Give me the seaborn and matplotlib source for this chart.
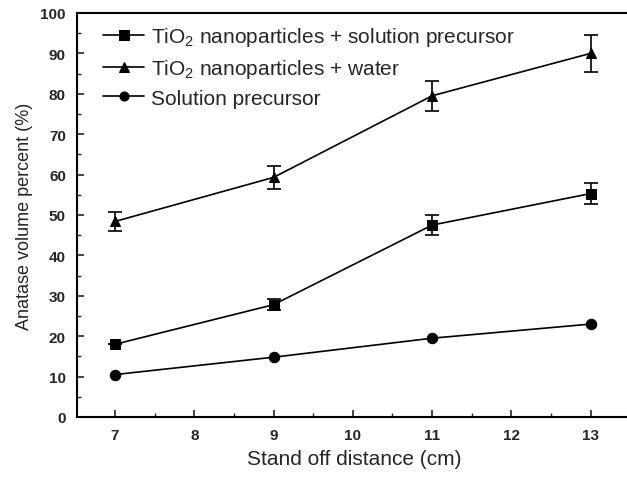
import matplotlib
matplotlib.use("Agg")
import matplotlib.pyplot as plt
from matplotlib.ticker import MultipleLocator
import seaborn as sns
import pandas as pd

distance = [7, 9, 11, 13]
tio2_solution = [18.0, 27.8, 47.5, 55.3]
tio2_solution_err = [0.0, 1.3, 2.4, 2.6]
tio2_water = [48.4, 59.3, 79.5, 90.0]
tio2_water_err = [2.4, 2.9, 3.7, 4.5]
solution = [10.5, 14.8, 19.5, 23.0]
solution_err = [0.0, 0.0, 0.0, 0.0]

labels = ["TiO$_2$ nanoparticles + solution precursor",
          "TiO$_2$ nanoparticles + water",
          "Solution precursor"]
series = [tio2_solution, tio2_water, solution]
errs = [tio2_solution_err, tio2_water_err, solution_err]
markers = ["s", "^", "o"]

rows = []
for lab, vals in zip(labels, series):
    for d, v in zip(distance, vals):
        rows.append({"distance": d, "value": v, "series": lab})
df = pd.DataFrame(rows)

sns.set_style("ticks")
plt.rcParams["font.family"] = ["Liberation Sans", "DejaVu Sans"]
plt.rcParams["mathtext.fontset"] = "custom"
plt.rcParams["mathtext.rm"] = "Liberation Sans"

fig = plt.figure(figsize=(6.27, 4.81), dpi=100)
ax = fig.add_axes([0.1228, 0.131, 0.885, 0.84])

sns.lineplot(data=df, x="distance", y="value", hue="series", style="series",
             hue_order=labels, style_order=labels,
             palette=["black"] * 3, markers=markers, dashes=False,
             markersize=7.5, linewidth=1.2, markeredgecolor="black",
             ax=ax, legend=True)

for vals, e in zip(series, errs):
    if any(x > 0 for x in e):
        ax.errorbar(distance, vals, yerr=e, fmt="none", ecolor="black",
                    elinewidth=1.2, capsize=5, capthick=1.2)

ax.set_xlim(6.52, 13.52)
ax.set_ylim(0, 100)
ax.xaxis.set_major_locator(MultipleLocator(1))
ax.xaxis.set_minor_locator(MultipleLocator(0.5))
ax.yaxis.set_major_locator(MultipleLocator(10))
ax.yaxis.set_minor_locator(MultipleLocator(5))
ax.tick_params(which="major", direction="in", length=5, width=1.2,
               labelsize=11, pad=8)
ax.tick_params(which="minor", direction="in", length=3, width=1.0)
for lbl in ax.get_xticklabels() + ax.get_yticklabels():
    lbl.set_fontweight("bold")
for s in ax.spines.values():
    s.set_linewidth(1.5)
    s.set_color("black")

ax.set_xlabel("Stand off distance (cm)", fontsize=15, labelpad=5)
ax.set_ylabel("Anatase volume percent (%)", fontsize=13, labelpad=5)

leg = ax.legend(loc="upper left", frameon=False, fontsize=15,
                bbox_to_anchor=(0.02, 1.006), handlelength=2.0,
                handletextpad=0.3, labelspacing=0.42, borderaxespad=0.3)
for h in leg.legend_handles:
    h.set_markersize(6.5)

fig.savefig("out.png", dpi=100)
